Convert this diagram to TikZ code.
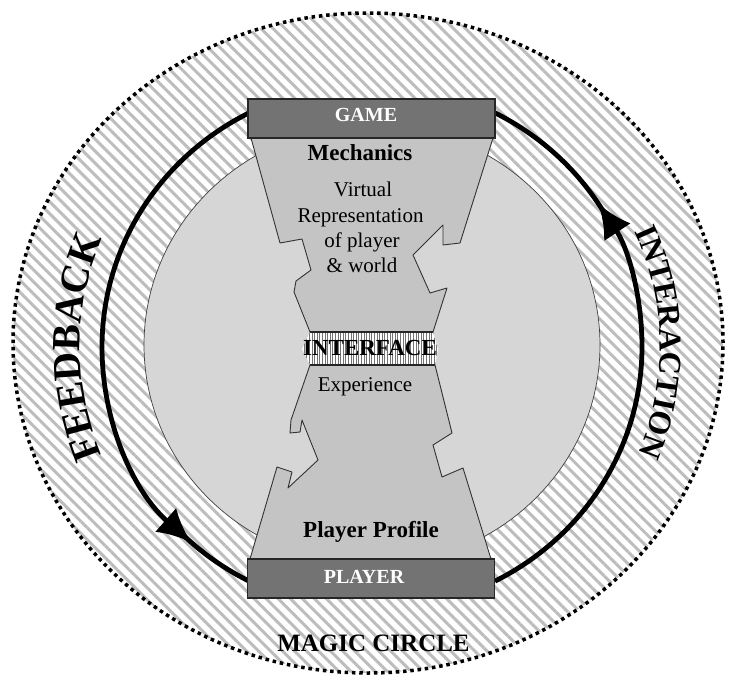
\documentclass[tikz,border=0pt]{standalone}
\usepackage{fontspec}
\setmainfont{Liberation Serif}
\usetikzlibrary{arrows.meta,patterns.meta,decorations.text,calc}
\newcommand\fbfont{\fontsize{40}{44}\selectfont\bfseries}
\newcommand\infont{\fontsize{32}{36}\selectfont\bfseries}
\begin{document}
\begin{tikzpicture}[x=1pt,y=1pt,
  barbox/.style={draw=black!85, fill=black!55, line width=1.2pt, minimum width=247pt, minimum height=39pt, inner sep=0pt},
  glass/.style={draw=black!80, fill=black!23, line width=0.9pt, line join=round},
  loopline/.style={line width=4.8pt, draw=black},
  tipped/.style={-{Latex[length=34pt,width=32pt]}},
  lbl/.style={anchor=base, inner sep=0pt},
  bigb/.style={font=\fontsize{23}{25}\selectfont\bfseries},
  reg/.style={font=\fontsize{21}{23}\selectfont},
  white label/.style={font=\fontsize{20}{22}\selectfont\bfseries, text=white}
]
\useasboundingbox (0,0) rectangle (730,681);
\coordinate (c) at (372,334);
\coordinate (oc) at (368,338);
\coordinate (ic) at (372,336);

% hatched magic circle
\path[fill=white] (oc) ellipse[x radius=355, y radius=330];
\path[pattern={Lines[angle=-45,distance=8.5pt,line width=3pt]}, pattern color=black!26]
  (oc) ellipse[x radius=355, y radius=330];

% inner disk
\draw[fill=black!16, draw=black!75, line width=0.7pt] (ic) ellipse[x radius=228, y radius=220];

% feedback / interaction loop
\draw[loopline, tipped] ([shift={(117.3:270 and 263)}]c) arc[start angle=117.3, end angle=228, x radius=270, y radius=263];
\draw[loopline] ([shift={(226:270 and 263)}]c) arc[start angle=226, end angle=242.7, x radius=270, y radius=263];
\draw[loopline, tipped] ([shift={(-62.9:270 and 263)}]c) arc[start angle=-62.9, end angle=33, x radius=270, y radius=263];
\draw[loopline] ([shift={(31:270 and 263)}]c) arc[start angle=31, end angle=62.9, x radius=270, y radius=263];

% hourglass
\draw[glass] (251,543) -- (280,438) -- (302,442) -- (311,411) -- (296,400) -- (294,389) -- (310,349)
  -- (310,316) -- (291,261) -- (290,248) -- (300,249) -- (302,261) -- (318,221) -- (288,193)
  -- (292,209) -- (277,214) -- (250,122) -- (491,122) -- (463,213) -- (442,204) -- (433,236)
  -- (452,248) -- (435,316) -- (433,349) -- (447,393) -- (430,388) -- (413,426) -- (443,456)
  -- (443,436) -- (460,438) -- (493,543) -- cycle;

% interface band
\path[fill=white] (310,349) -- (433,349) -- (438,332) -- (435,316) -- (310,316) -- (302,332) -- cycle;
\path[pattern={Lines[angle=90,distance=2.6pt,line width=0.9pt]}, pattern color=black!55]
  (310,349) -- (433,349) -- (438,332) -- (435,316) -- (310,316) -- (302,332) -- cycle;
\draw[line width=1.6pt, black!85] (310,349) -- (433,349);
\draw[line width=1.6pt, black!85] (310,316) -- (435,316);

% bars
\node[barbox] (game) at (371.5,562.5) {};
\node[barbox] (player) at (371,102.5) {};

% labels
\node[lbl, white label] (gamet) at (366,559) {GAME};
\node[lbl, white label] (playert) at (364,98) {PLAYER};
\node[lbl, bigb] (mech) at (360,520) {Mechanics};
\node[lbl, reg] (v1) at (363,484) {Virtual};
\node[lbl, reg] (v2) at (360.5,458) {Representation};
\node[lbl, reg] (v3) at (362,433) {of player};
\node[lbl, reg] (v4) at (362,408) {\&~world};
\node[lbl, bigb] (iface) at (370,326) {INTERFACE};
\node[lbl, reg] (exp) at (365,290) {Experience};
\node[lbl, bigb] (prof) at (371,144) {Player Profile};
\node[lbl, font=\fontsize{25}{27}\selectfont\bfseries] (magic) at (373.5,30) {MAGIC CIRCLE};

% curved words
\path[decorate, decoration={text along path, text={|\fbfont|FEEDBACK}, text align=center}]
  ([shift={(225:292 and 284)}]c) arc[start angle=225, end angle=135, x radius=292, y radius=284];
\path[decorate, decoration={text along path, text={|\infont|INTERACTION}, text align=center}]
  ([shift={(46:288 and 280)}]c) arc[start angle=46, end angle=-44, x radius=288, y radius=280];

% dotted rim
\draw[line width=3.5pt, dash pattern=on 3.5pt off 3.8pt] (oc) ellipse[x radius=355, y radius=330];
\end{tikzpicture}
\end{document}
